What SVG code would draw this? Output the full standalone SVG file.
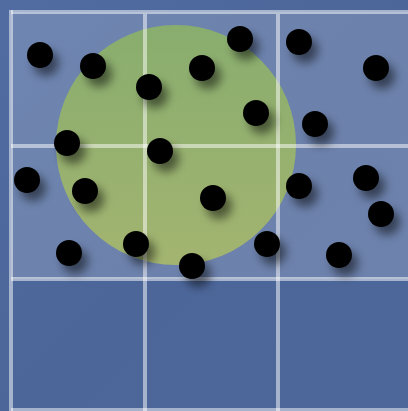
<svg xmlns="http://www.w3.org/2000/svg" width="408" height="411" viewBox="0 0 408 411">
  <defs>
    <linearGradient id="bg" x1="0" y1="0" x2="1" y2="1">
      <stop offset="0" stop-color="#506ca1"/>
      <stop offset="0.5" stop-color="#4c6699"/>
      <stop offset="1" stop-color="#4d679b"/>
    </linearGradient>
    <linearGradient id="green" x1="0" y1="0" x2="0" y2="1">
      <stop offset="0" stop-color="#88ad6e"/>
      <stop offset="1" stop-color="#a3b470"/>
    </linearGradient>
    <filter id="shadow" x="-50%" y="-50%" width="200%" height="200%">
      <feGaussianBlur in="SourceAlpha" stdDeviation="5"/>
      <feOffset dx="6" dy="8" result="b"/>
      <feComponentTransfer><feFuncA type="linear" slope="0.5"/></feComponentTransfer>
      <feMerge><feMergeNode/><feMergeNode in="SourceGraphic"/></feMerge>
    </filter>
    <style>
      .grid { stroke: #ffffff; stroke-opacity: 0.5; stroke-width: 4; fill: none; }
      .dot { fill: #000000; }
    </style>
  </defs>
  <rect x="0" y="0" width="408" height="411" fill="url(#bg)"/>
  <rect x="11" y="12" width="397" height="267" fill="#ffffff" fill-opacity="0.18"/>
  <circle id="region" cx="176" cy="145" r="120" fill="url(#green)"/>
  <g id="grid">
    <line class="grid" x1="11" y1="12" x2="408" y2="12"/>
    <line class="grid" x1="11" y1="146" x2="408" y2="146"/>
    <line class="grid" x1="11" y1="279" x2="408" y2="279"/>
    <line class="grid" x1="11" y1="410" x2="408" y2="410"/>
    <line class="grid" x1="11" y1="10" x2="11" y2="411"/>
    <line class="grid" x1="145" y1="14" x2="145" y2="411"/>
    <line class="grid" x1="278" y1="14" x2="278" y2="411"/>
  </g>
  <g id="dots" filter="url(#shadow)">
    <circle class="dot" cx="40" cy="55" r="13"/>
    <circle class="dot" cx="93" cy="66" r="13"/>
    <circle class="dot" cx="149" cy="87" r="13"/>
    <circle class="dot" cx="202" cy="68" r="13"/>
    <circle class="dot" cx="240" cy="39" r="13"/>
    <circle class="dot" cx="299" cy="42" r="13"/>
    <circle class="dot" cx="376" cy="68" r="13"/>
    <circle class="dot" cx="67" cy="143" r="13"/>
    <circle class="dot" cx="160" cy="151" r="13"/>
    <circle class="dot" cx="256" cy="113" r="13"/>
    <circle class="dot" cx="315" cy="124" r="13"/>
    <circle class="dot" cx="27" cy="180" r="13"/>
    <circle class="dot" cx="85" cy="191" r="13"/>
    <circle class="dot" cx="213" cy="198" r="13"/>
    <circle class="dot" cx="299" cy="186" r="13"/>
    <circle class="dot" cx="366" cy="178" r="13"/>
    <circle class="dot" cx="381" cy="214" r="13"/>
    <circle class="dot" cx="69" cy="253" r="13"/>
    <circle class="dot" cx="136" cy="244" r="13"/>
    <circle class="dot" cx="192" cy="266" r="13"/>
    <circle class="dot" cx="267" cy="244" r="13"/>
    <circle class="dot" cx="339" cy="255" r="13"/>
  </g>
</svg>
